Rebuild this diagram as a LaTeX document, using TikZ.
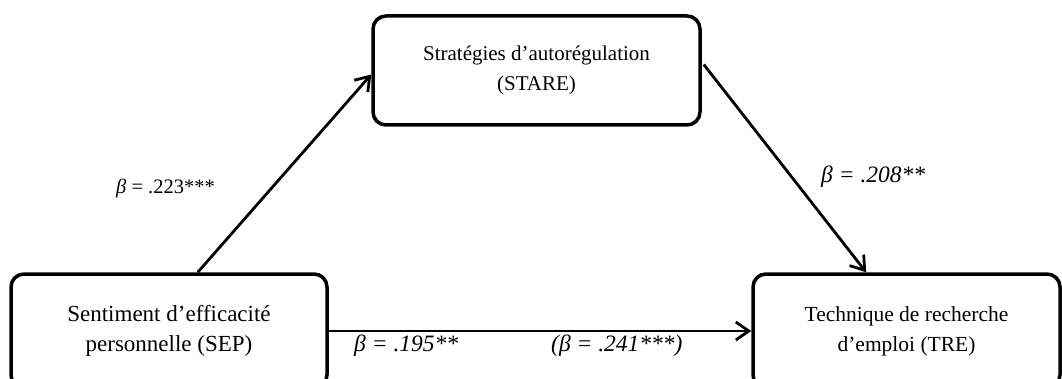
\documentclass[tikz,border=0pt]{standalone}
\usepackage{fontspec}
\setmainfont{Liberation Serif}
\usetikzlibrary{arrows.meta,calc}
\begin{document}
\begin{tikzpicture}[x=1pt,y=-1pt,
  box/.style={draw=black,line width=3.5pt,rounded corners=13pt,inner sep=0pt,align=center,
    font=\fontsize{21}{30}\selectfont},
  arr/.style={line width=2.8pt,-{Straight Barb[length=13pt,width=18pt,line width=2.8pt]}},
  lab/.style={anchor=base west,inner sep=0pt,font=\fontsize{23.5}{28}\selectfont},
  labs/.style={anchor=base west,inner sep=0pt,font=\fontsize{20.5}{24}\selectfont}]
\useasboundingbox (0,0) rectangle (1062,379);
\node[box,minimum width=327pt,minimum height=109pt] (stare) at (536.5,70.5)
  {Stratégies d’autorégulation\\(STARE)};
\node[box,minimum width=316pt,minimum height=114pt,font=\fontsize{23}{30}\selectfont] (sep) at (169,331)
  {Sentiment d’efficacité\\personnelle (SEP)};
\node[box,minimum width=307pt,minimum height=114pt,font=\fontsize{21.5}{30}\selectfont] (tre) at (906.5,331)
  {Technique de recherche\\d’emploi (TRE)};
\draw[arr] ($(sep.north west)!0.59!(sep.north east)$) -- ($(stare.west)+(0,4)$);
\draw[arr] ($(stare.east)+(2,-6)$) -- ($(tre.north west)!0.37!(tre.north east)$);
\draw[arr] (sep.east) -- (tre.west);
\node[labs] (l1) at (116,194) {\textit{β} = .223***};
\node[lab] (l2) at (821,183) {\itshape β = .208**};
\node[lab] (l3) at (354,351) {\itshape β = .195**};
\node[lab] (l4) at (551,351) {\itshape (β = .241***)};
\end{tikzpicture}
\end{document}
